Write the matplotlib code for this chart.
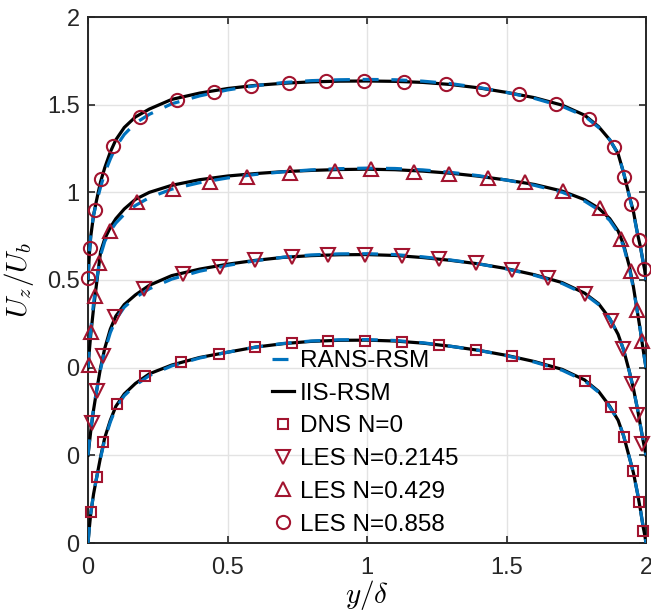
import numpy as np
import matplotlib
matplotlib.use("Agg")
import matplotlib.pyplot as plt

plt.rcParams['font.family'] = ['Liberation Sans', 'DejaVu Sans']
plt.rcParams['mathtext.fontset'] = 'cm'

# wall-normal positions for the model curves
ys = [0, 0.005, 0.01, 0.02, 0.03, 0.045, 0.06, 0.08, 0.1, 0.13, 0.17, 0.22, 0.3, 0.4,
      0.5, 0.6, 0.7, 0.8, 0.9, 1.0, 1.1, 1.2, 1.3, 1.4, 1.5, 1.6, 1.7, 1.78, 1.83,
      1.87, 1.9, 1.92, 1.94, 1.955, 1.97, 1.98, 1.99, 1.995, 2.0]

# IIS-RSM (black) profiles, N = 0, 0.2145, 0.429, 0.858
iis_0 = [0, 0.09, 0.17, 0.28, 0.365, 0.49, 0.60, 0.70, 0.78, 0.85, 0.91, 0.965, 1.015, 1.058,
         1.088, 1.117, 1.137, 1.15, 1.156, 1.157, 1.152, 1.14, 1.122, 1.099, 1.07, 1.035, 0.99,
         0.93, 0.865, 0.78, 0.70, 0.61, 0.49, 0.40, 0.28, 0.19, 0.09, 0.05, 0]
iis_1 = [0, 0.07, 0.14, 0.26, 0.36, 0.5, 0.61, 0.72, 0.795, 0.86, 0.915, 0.97, 1.025, 1.062,
         1.09, 1.112, 1.129, 1.139, 1.144, 1.145, 1.14, 1.128, 1.112, 1.092, 1.065, 1.03, 0.985,
         0.925, 0.865, 0.78, 0.69, 0.60, 0.48, 0.38, 0.26, 0.17, 0.08, 0.04, 0]
iis_2 = [0, 0.1, 0.19, 0.34, 0.47, 0.66, 0.735, 0.8, 0.85, 0.905, 0.96, 1.0, 1.04, 1.072,
         1.093, 1.107, 1.118, 1.125, 1.13, 1.132, 1.129, 1.121, 1.109, 1.092, 1.07, 1.045, 1.007,
         0.958, 0.91, 0.85, 0.78, 0.70, 0.58, 0.46, 0.31, 0.21, 0.1, 0.05, 0]
iis_3 = [0, 0.15, 0.25, 0.37, 0.45, 0.56, 0.64, 0.73, 0.80, 0.87, 0.93, 0.975, 1.03, 1.066,
         1.092, 1.11, 1.122, 1.13, 1.134, 1.135, 1.133, 1.127, 1.115, 1.096, 1.07, 1.04, 0.997,
         0.94, 0.875, 0.80, 0.72, 0.61, 0.48, 0.39, 0.26, 0.19, 0.10, 0.06, 0]

# RANS-RSM (blue dashed) profiles
rans_0 = [0, 0.09, 0.17, 0.28, 0.365, 0.485, 0.59, 0.69, 0.77, 0.84, 0.90, 0.955, 1.01, 1.055,
          1.088, 1.117, 1.138, 1.152, 1.159, 1.16, 1.155, 1.142, 1.122, 1.099, 1.068, 1.032,
          0.985, 0.925, 0.86, 0.775, 0.70, 0.61, 0.49, 0.40, 0.28, 0.19, 0.09, 0.05, 0]
rans_1 = [0, 0.08, 0.15, 0.27, 0.36, 0.49, 0.595, 0.70, 0.775, 0.845, 0.90, 0.95, 1.005, 1.05,
          1.083, 1.11, 1.13, 1.143, 1.149, 1.15, 1.145, 1.132, 1.114, 1.092, 1.063, 1.027, 0.98,
          0.92, 0.86, 0.78, 0.69, 0.60, 0.48, 0.38, 0.26, 0.17, 0.08, 0.04, 0]
rans_2 = [0, 0.12, 0.22, 0.37, 0.49, 0.64, 0.72, 0.78, 0.825, 0.875, 0.925, 0.97, 1.018, 1.055,
          1.082, 1.102, 1.117, 1.128, 1.135, 1.138, 1.136, 1.128, 1.114, 1.095, 1.07, 1.04, 1.0,
          0.95, 0.9, 0.84, 0.77, 0.69, 0.57, 0.45, 0.31, 0.21, 0.1, 0.05, 0]
rans_3 = [0, 0.16, 0.26, 0.37, 0.44, 0.53, 0.61, 0.69, 0.76, 0.83, 0.895, 0.945, 1.005, 1.05,
          1.084, 1.108, 1.126, 1.137, 1.142, 1.144, 1.142, 1.134, 1.12, 1.098, 1.07, 1.036, 0.99,
          0.935, 0.87, 0.80, 0.72, 0.61, 0.48, 0.38, 0.26, 0.19, 0.10, 0.06, 0]

# DNS N=0 (squares)
dns_y = [0.011, 0.032, 0.052, 0.104, 0.206, 0.335, 0.470, 0.599, 0.732, 0.861, 0.992, 1.124,
         1.257, 1.389, 1.520, 1.652, 1.782, 1.873, 1.920, 1.954, 1.975, 1.990]
dns_u = [0.179, 0.375, 0.575, 0.795, 0.951, 1.031, 1.078, 1.120, 1.143, 1.152, 1.152, 1.148,
         1.130, 1.101, 1.068, 1.021, 0.922, 0.774, 0.606, 0.411, 0.236, 0.070]

# LES N=0.2145 (down triangles)
les1_y = [0.014, 0.032, 0.052, 0.097, 0.200, 0.339, 0.472, 0.600, 0.732, 0.861, 0.992, 1.126,
          1.257, 1.389, 1.520, 1.649, 1.780, 1.873, 1.918, 1.950, 1.968, 1.987]
les1_u = [0.183, 0.369, 0.567, 0.788, 0.947, 1.033, 1.076, 1.116, 1.133, 1.143, 1.143, 1.137,
          1.118, 1.096, 1.057, 1.010, 0.922, 0.768, 0.605, 0.407, 0.230, 0.065]

# LES N=0.429 (up triangles)
les2_y = [0.002, 0.011, 0.025, 0.039, 0.078, 0.174, 0.305, 0.437, 0.570, 0.723, 0.885, 1.013,
          1.168, 1.294, 1.434, 1.566, 1.701, 1.834, 1.912, 1.946, 1.968, 1.984]
les2_u = [0.015, 0.205, 0.410, 0.596, 0.782, 0.944, 1.018, 1.061, 1.090, 1.109, 1.124, 1.132,
          1.118, 1.105, 1.084, 1.061, 1.010, 0.909, 0.732, 0.550, 0.329, 0.152]

# LES N=0.858 (circles)
les3_y = [0.001, 0.006, 0.024, 0.048, 0.090, 0.188, 0.319, 0.452, 0.584, 0.721, 0.852, 0.990,
          1.133, 1.282, 1.414, 1.545, 1.677, 1.794, 1.887, 1.920, 1.946, 1.974, 1.994]
les3_u = [0.010, 0.180, 0.399, 0.576, 0.766, 0.932, 1.027, 1.071, 1.107, 1.122, 1.136, 1.137,
          1.132, 1.118, 1.090, 1.060, 1.004, 0.920, 0.759, 0.590, 0.432, 0.228, 0.060]

offsets = [0.0, 0.5, 1.0, 1.5]     # each case is shifted up by 0.5
yticks = [0, 0.5, 1, 1.5, 2, 2.5, 3]
yticklabels = ['0', '0', '0', '0.5', '1', '1.5', '2']
xticks = [0, 0.5, 1, 1.5, 2]
xticklabels = ['0', '0.5', '1', '1.5', '2']

blue = '#0072BD'
red = '#A2142F'


def main():
    fig = plt.figure(figsize=(6.51, 6.13), dpi=100)
    ax = fig.add_axes([88/651, 1-543/613, 558/651, 526/613])

    iis = [iis_0, iis_1, iis_2, iis_3]
    rans = [rans_0, rans_1, rans_2, rans_3]
    pts = [(dns_y, dns_u, 's', 7.5, 'DNS N=0'),
           (les1_y, les1_u, 'v', 9.5, 'LES N=0.2145'),
           (les2_y, les2_u, '^', 9.5, 'LES N=0.429'),
           (les3_y, les3_u, 'o', 9.5, 'LES N=0.858')]

    handles = []
    for k in range(4):
        off = offsets[k]
        hk, = ax.plot(ys, np.array(iis[k]) + off, color='k', lw=2.3, zorder=3)
        hb, = ax.plot(ys, np.array(rans[k]) + off, color=blue, lw=2.3,
                      ls=(0, (5, 4)), zorder=4)
        if k == 0:
            handles = [hb, hk]
    for k, (yy, uu, mk, ms, lab) in enumerate(pts):
        hm, = ax.plot(yy, np.array(uu) + offsets[k], ls='none', marker=mk, ms=ms,
                      mfc='none', mec=red, mew=1.5, zorder=5, clip_on=False)
        handles.append(hm)
    labels = ['RANS-RSM', 'IIS-RSM'] + [p[4] for p in pts]

    ax.set_xlim(0, 2)
    ax.set_ylim(0, 3)
    ax.set_xticks(xticks)
    ax.set_xticklabels(xticklabels)
    ax.set_yticks(yticks)
    ax.set_yticklabels(yticklabels)
    ax.grid(True, color='#e3e3e3', lw=1.0)
    ax.set_axisbelow(True)
    ax.tick_params(direction='in', length=5, width=1.2, top=True, right=True,
                   labelsize=17, colors='#262626')
    ax.tick_params(axis='x', pad=10)
    ax.tick_params(axis='y', pad=6)
    for s in ax.spines.values():
        s.set_color('#262626')
        s.set_linewidth(1.4)

    ax.set_xlabel(r'$y/\delta$', fontsize=21, labelpad=-1)
    ax.set_ylabel(r'$U_z/U_b$', fontsize=21)
    ax.yaxis.set_label_coords(-0.093, 0.5)

    ax.legend(handles, labels, loc='upper left', bbox_to_anchor=(272/651, 1-350/613),
              bbox_transform=fig.transFigure, frameon=False, fontsize=17.5,
              handlelength=0.9, handletextpad=0.25, labelspacing=0.44,
              borderpad=0, borderaxespad=0)

    fig.savefig('out.png', dpi=100)
    return 0


if __name__ == '__main__':
    import sys
    sys.exit(main())
